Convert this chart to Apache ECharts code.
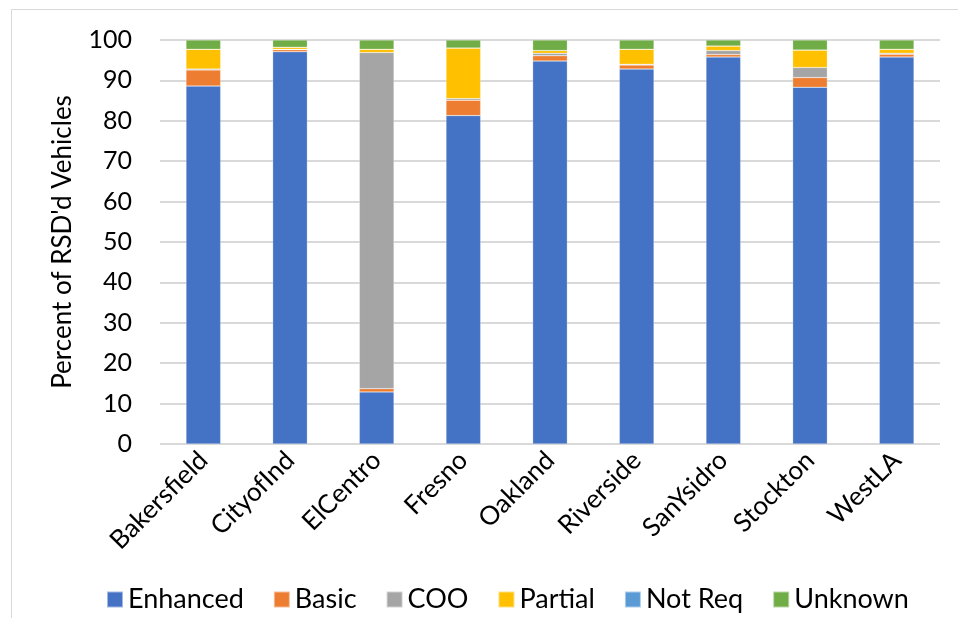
<!DOCTYPE html>
<html><head><meta charset="utf-8">
<script src="https://cdn.jsdelivr.net/npm/echarts@6/dist/echarts.min.js"></script>
<style>html,body{margin:0;padding:0;background:#fff}#c{width:958px;height:618px}</style>
</head><body><div id="c"></div>
<script>
const categories = ['Bakersfield','CityofInd','ElCentro','Fresno','Oakland','Riverside','SanYsidro','Stockton','WestLA'];
const enhanced = [88.6, 97.1, 12.9, 81.3, 94.8, 92.8, 95.8, 88.3, 95.8];
const basic    = [4.0, 0.5, 0.8, 3.8, 1.3, 1.0, 0.6, 2.4, 0.7];
const coo      = [0.2, 0.1, 83.2, 0.4, 0.6, 0.2, 1.0, 2.5, 0.2];
const partial  = [4.9, 0.5, 0.8, 12.5, 0.7, 3.7, 1.1, 4.3, 1.0];
const notReq   = [0.0, 0.0, 0.0, 0.0, 0.0, 0.0, 0.0, 0.0, 0.0];
const unknown  = [2.3, 1.8, 2.3, 2.0, 2.6, 2.3, 1.5, 2.5, 2.3];
const yTicks = [0,10,20,30,40,50,60,70,80,90,100];

const seriesDefs = [
  ['Enhanced', enhanced, '#4472C4'],
  ['Basic', basic, '#ED7D31'],
  ['COO', coo, '#A5A5A5'],
  ['Partial', partial, '#FFC000'],
  ['Not Req', notReq, '#5B9BD5'],
  ['Unknown', unknown, '#70AD47']
];
const FONT = 'Lato';
const chart = echarts.init(document.getElementById('c'), null, {renderer:'canvas'});
chart.setOption({
  animation: false,
  textStyle: {fontFamily: FONT},
  graphic: [{type:'rect', shape:{x:11.5, y:9.5, width:960, height:620}, style:{fill:'none', stroke:'#d9d9d9', lineWidth:1}, silent:true, z:-10}],
  grid: {left:160, right:18, top:40, bottom:174},
  legend: {
    data: seriesDefs.map(s=>s[0]),
    left: 101, top: 581, itemWidth: 16, itemHeight: 16, itemGap: 29,
    icon: 'rect',
    textStyle: {fontSize: 27, color:'#000', fontFamily: FONT}
  },
  xAxis: {
    type:'category', data: categories,
    axisLine:{show:false}, axisTick:{show:false},
    axisLabel:{rotate:45, fontSize:26, color:'#000', margin:12, interval:0, fontFamily: FONT}
  },
  yAxis: {
    type:'value', min:0, max:100, interval:10,
    name:"Percent of RSD'd Vehicles", nameLocation:'middle', nameGap:84,
    nameTextStyle:{fontSize:26, color:'#000', fontFamily: FONT},
    axisLabel:{fontSize:25, color:'#000', margin:28, fontFamily: FONT,
      formatter: v => yTicks.includes(v) ? String(v) : ''},
    splitLine:{lineStyle:{color:'#d9d9d9', width:2}},
    axisLine:{show:false}, axisTick:{show:false}
  },
  series: seriesDefs.map(([name, data, color]) => ({
    name, type:'bar', stack:'total', data, barWidth:'40%',
    itemStyle:{color, borderColor:'rgba(255,255,255,0.5)', borderWidth:0.5}
  }))
});
</script></body></html>
